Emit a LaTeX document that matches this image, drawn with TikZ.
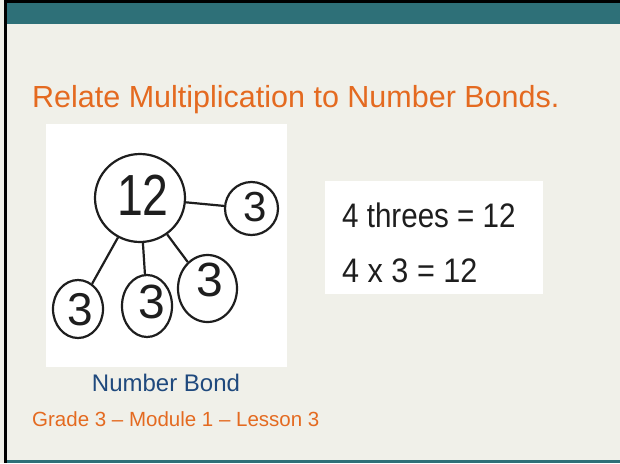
\documentclass[tikz,border=0pt]{standalone}
\usepackage{fontspec}
\setmainfont{Liberation Sans}
\usetikzlibrary{shapes.geometric}
\definecolor{bgc}{RGB}{240,240,233}
\definecolor{teal}{RGB}{46,112,120}
\definecolor{orng}{RGB}{228,106,32}
\definecolor{navy}{RGB}{31,73,125}
\definecolor{ink}{RGB}{30,30,30}
\tikzset{
  bubble/.style={ellipse, draw=ink, line width=2.2pt, inner sep=0pt},
  bond/.style={draw=ink, line width=2.2pt},
  hand/.style={text=ink, inner sep=0pt, font=\fontsize{34}{34}\selectfont},
  photo/.style={fill=white, draw=none}
}
\begin{document}
\begin{tikzpicture}[x=1pt,y=-1pt]
\useasboundingbox (0,0) rectangle (620,463);
\fill[bgc] (0,0) rectangle (620,463);
% frame
\fill[black] (4,0) rectangle (620,3);
\fill[teal] (7,3) rectangle (620,24);
\fill[black] (4,0) rectangle (7,463);
\fill[teal] (7,460) rectangle (620,463);
% title
\node[anchor=base west, inner sep=0pt, text=orng, font=\fontsize{30.5}{30.5}\selectfont] (title) at (32,107) {Relate Multiplication to Number Bonds.};
% photo 1
\fill[photo] (46,124) rectangle (287,367);
\node[bubble, minimum width=90pt, minimum height=88pt] (big) at (140,198) {};
\node[bubble, minimum width=53pt, minimum height=53pt] (r) at (251.5,208.5) {};
\node[bubble, minimum width=50pt, minimum height=58pt] (bl) at (78,309) {};
\node[bubble, minimum width=50pt, minimum height=62pt] (bm) at (147,306) {};
\node[bubble, minimum width=59pt, minimum height=67pt] (br) at (207.5,288.5) {};
\node[hand, font=\fontsize{58}{58}\selectfont, xscale=0.8] (t12) at (143,195) {12};
\node[hand, font=\fontsize{42}{42}\selectfont] (t3a) at (255,207) {3};
\node[hand, font=\fontsize{46}{46}\selectfont] (t3b) at (80,310) {3};
\node[hand, font=\fontsize{48}{48}\selectfont] (t3c) at (152,302) {3};
\node[hand, font=\fontsize{48}{48}\selectfont] (t3d) at (210,280) {3};
\draw[bond] (big) -- (r);
\draw[bond] (big) -- (bl);
\draw[bond] (big) -- (bm);
\draw[bond] (big) -- (br);
% photo 2
\fill[photo] (325,181) rectangle (543,294);
\node[hand, anchor=base west, xscale=0.87] (l1) at (342,227) {4 threes = 12};
\node[hand, anchor=base west, xscale=0.9] (l2) at (342,282) {4 x 3 = 12};
% captions
\node[anchor=base, inner sep=0pt, text=navy, font=\fontsize{24}{24}\selectfont] (cap) at (166,391) {Number Bond};
\node[anchor=base west, inner sep=0pt, text=orng, font=\fontsize{20.5}{20.5}\selectfont] (foot) at (32,426) {Grade 3 – Module 1 – Lesson 3};
\end{tikzpicture}
\end{document}
